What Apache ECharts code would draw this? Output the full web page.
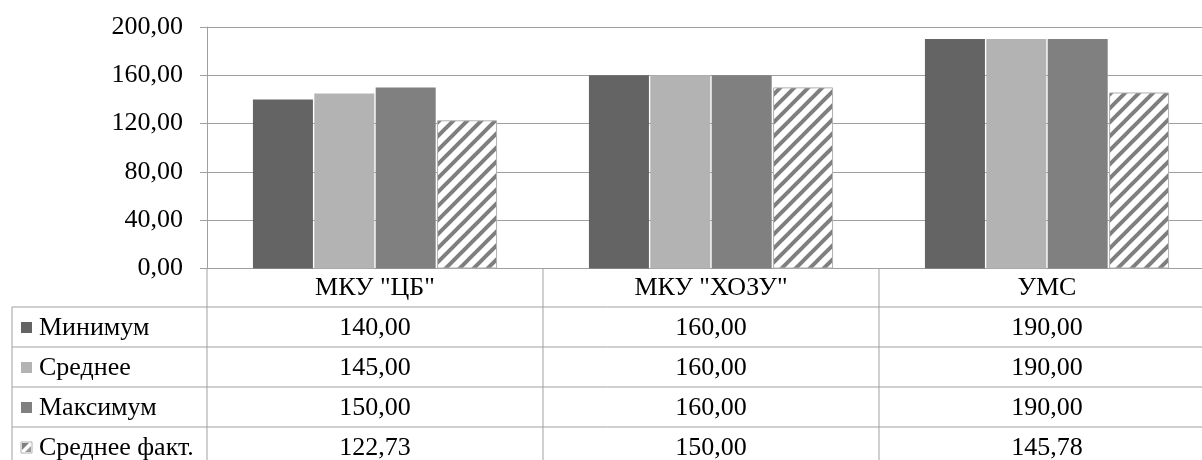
<!DOCTYPE html>
<html><head><meta charset="utf-8">
<script src="https://cdn.jsdelivr.net/npm/echarts@6/dist/echarts.min.js"></script>
<style>html,body{margin:0;padding:0;background:#fff;overflow:hidden}#c{width:1202px;height:460px}</style>
</head><body><div id="c"></div><script>
// ---- data ----
const categories = ['МКУ "ЦБ"', 'МКУ "ХОЗУ"', 'УМС'];
const seriesNames = ['Минимум', 'Среднее', 'Максимум', 'Среднее факт.'];
const minimumValues = [140.00, 160.00, 190.00];
const averageValues = [145.00, 160.00, 190.00];
const maximumValues = [150.00, 160.00, 190.00];
const actualAverageValues = [122.73, 150.00, 145.78];
const yMin = 0, yMax = 200, yStep = 40;

// ---- styling ----
const FONT = '"Liberation Serif", "Times New Roman", serif';
const FS = 26;
const LINE = '#a0a0a0';
const fmt = v => v.toFixed(2).replace('.', ',');

function hatchCanvas() {
  const P = 14, c = document.createElement('canvas');
  c.width = P; c.height = P;
  const g = c.getContext('2d');
  g.fillStyle = '#fff'; g.fillRect(0, 0, P, P);
  g.strokeStyle = '#7f7f7f'; g.lineWidth = 4;
  g.beginPath();
  g.moveTo(-2, P + 2); g.lineTo(P + 2, -2);
  g.moveTo(-P - 2, P + 2); g.lineTo(2, -2);
  g.moveTo(-2, 2 * P + 2); g.lineTo(P + 2, P - 2);
  g.stroke();
  return c;
}
const hatch = { image: hatchCanvas(), repeat: 'repeat' };
const colors = ['#646464', '#b3b3b3', '#808080', hatch];
const seriesData = [minimumValues, averageValues, maximumValues, actualAverageValues];

const chart = echarts.init(document.getElementById('c'), null, { renderer: 'canvas' });
const GRID = { left: 207, top: 27, width: 1008, height: 241.5, outerBoundsMode: 'none', containLabel: false };
chart.setOption({
  backgroundColor: '#fff',
  animation: false,
  textStyle: { fontFamily: FONT },
  grid: GRID,
  xAxis: {
    type: 'category', data: categories,
    axisLine: { show: true, lineStyle: { color: LINE, width: 1 } },
    axisTick: { show: false },
    axisLabel: { fontFamily: FONT, fontSize: FS, color: '#000', margin: 20, verticalAlign: 'middle' }
  },
  yAxis: {
    type: 'value', min: yMin, max: yMax, interval: yStep,
    axisLine: { show: true, lineStyle: { color: LINE, width: 1 } },
    axisTick: { show: true, length: 7, lineStyle: { color: LINE } },
    axisLabel: { fontFamily: FONT, fontSize: FS, color: '#000', margin: 24, formatter: v => fmt(v) },
    splitLine: { show: true, lineStyle: { color: LINE, width: 1 } }
  },
  series: seriesNames.map((name, i) => ({
    name, type: 'bar', data: seriesData[i],
    barWidth: 60, barGap: '2.3%',
    itemStyle: i === 3
      ? { color: hatch, borderColor: '#b0b0b0', borderWidth: 1 }
      : { color: colors[i] }
  }))
});

// ---- data table below the plot ----
const axisY = GRID.top + GRID.height;        // 268.5
const rowTop = 307, rowH = 40, tableLeft = 12;
const plotLeft = GRID.left, plotRight = GRID.left + GRID.width;
const centers = categories.map((c, i) => chart.convertToPixel({ xAxisIndex: 0 }, i));
const bounds = [];
for (let i = 0; i < centers.length - 1; i++) bounds.push((centers[i] + centers[i + 1]) / 2);
const tableBottom = rowTop + rowH * seriesNames.length;

const els = [];
const line = (x1, y1, x2, y2) => els.push({ type: 'line', silent: true,
  shape: { x1, y1, x2, y2 }, style: { stroke: LINE, lineWidth: 1 } });
for (let r = 0; r <= seriesNames.length; r++) line(tableLeft, rowTop + r * rowH, plotRight, rowTop + r * rowH);
line(tableLeft, rowTop, tableLeft, tableBottom);
line(plotLeft, axisY, plotLeft, tableBottom);
bounds.forEach(b => line(b, axisY, b, tableBottom));
line(plotRight, axisY, plotRight, tableBottom);

seriesNames.forEach((name, r) => {
  const cy = rowTop + r * rowH + rowH / 2;
  const kx = 21, ky = cy - 5, ks = 11;
  if (r === 3) {
    els.push({ type: 'rect', silent: true, shape: { x: kx, y: ky, width: ks, height: ks },
      style: { fill: '#fff', stroke: '#b0b0b0', lineWidth: 1 } });
    els.push({ type: 'polygon', silent: true, shape: { points: [[kx + 1, ky + 1], [kx + 8, ky + 1], [kx + 1, ky + 8]] },
      style: { fill: '#808080' } });
    els.push({ type: 'polygon', silent: true, shape: { points: [[kx + ks - 1, ky + 4], [kx + ks - 1, ky + ks - 1], [kx + 4, ky + ks - 1]] },
      style: { fill: '#999999' } });
  } else {
    els.push({ type: 'rect', silent: true, shape: { x: kx, y: ky, width: ks, height: ks },
      style: { fill: colors[r] } });
  }
  els.push({ type: 'text', silent: true, x: 39, y: cy + 1,
    style: { text: name, font: FS + 'px ' + FONT, fill: '#000', align: 'left', verticalAlign: 'middle' } });
  seriesData[r].forEach((v, c) => {
    els.push({ type: 'text', silent: true, x: centers[c], y: cy + 1,
      style: { text: fmt(v), font: FS + 'px ' + FONT, fill: '#000', align: 'center', verticalAlign: 'middle' } });
  });
});
chart.setOption({ graphic: { elements: els } });
</script></body></html>
